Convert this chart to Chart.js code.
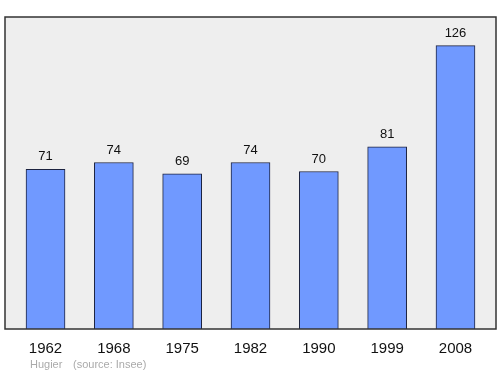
<!DOCTYPE html>
<html>
<head>
<meta charset="utf-8">
<script src="https://cdn.jsdelivr.net/npm/chart.js@4"></script>
<style>
  html, body { margin: 0; padding: 0; background: #fff; }
  #wrap { width: 500px; height: 374px; }
</style>
</head>
<body>
<div id="wrap"><canvas id="chart"></canvas></div>
<script>
const years = ['1962', '1968', '1975', '1982', '1990', '1999', '2008'];
const population = [71, 74, 69, 74, 70, 81, 126];

const ctx = document.getElementById("chart");

// grey plot background + dark frame around the chart area
const frame = {
    id: 'frame',
    beforeDatasetsDraw(chart) {
        const { ctx, chartArea: a } = chart;
        ctx.save();
        ctx.fillStyle = '#eeeeee';
        ctx.fillRect(a.left, a.top, a.right - a.left, a.bottom - a.top);
        ctx.restore();
    },
    afterDatasetsDraw(chart) {
        const { ctx, chartArea: a } = chart;
        ctx.save();
        ctx.strokeStyle = '#333333';
        ctx.lineWidth = 1.5;
        ctx.strokeRect(a.left, a.top, a.right - a.left, a.bottom - a.top);
        ctx.restore();
    }
};

// value above each bar, and the source line at the bottom
const labels = {
    id: 'labels',
    afterDraw(chart) {
        const { ctx } = chart;
        const meta = chart.getDatasetMeta(0);
        ctx.save();
        ctx.fillStyle = '#111111';
        ctx.font = '13px "Liberation Sans", Arial, sans-serif';
        ctx.textAlign = 'center';
        ctx.textBaseline = 'alphabetic';
        meta.data.forEach((bar, i) => {
            ctx.fillText(population[i], bar.x, bar.y - 9);
        });
        ctx.fillStyle = '#aaaaaa';
        ctx.font = '11px "Liberation Sans", Arial, sans-serif';
        ctx.textAlign = 'left';
        ctx.fillText('Hugier', 30, 368);
        ctx.fillText('(source: Insee)', 73, 368);
        ctx.restore();
    }
};

new Chart(ctx, {
    type: 'bar',
    data: {
        datasets: [{
            label: 'Population',
            data: population.map((v, i) => ({ x: i, y: v })),
            backgroundColor: '#7099ff',
            borderColor: '#1c2340',
            borderWidth: 1,
            barThickness: 39
        }]
    },
    options: {
        responsive: true,
        maintainAspectRatio: false,
        animation: false,
        layout: {
            padding: { left: 5, right: 4, top: 17, bottom: 5 }
        },
        scales: {
            x: {
                type: 'linear',
                offset: false,
                min: -0.593,
                max: 6.593,
                grid: { display: false, drawTicks: false },
                border: { display: false },
                afterBuildTicks: axis => {
                    axis.ticks = years.map((y, i) => ({ value: i }));
                },
                ticks: {
                    padding: 11,
                    maxRotation: 0,
                    color: '#111111',
                    font: { size: 15, family: '"Liberation Sans", Arial, sans-serif' },
                    callback: v => years[v]
                }
            },
            y: {
                display: false,
                min: 0,
                max: 138.7
            }
        },
        plugins: {
            legend: { display: false },
            tooltip: { enabled: false }
        }
    },
    plugins: [frame, labels]
});
</script>
</body>
</html>
